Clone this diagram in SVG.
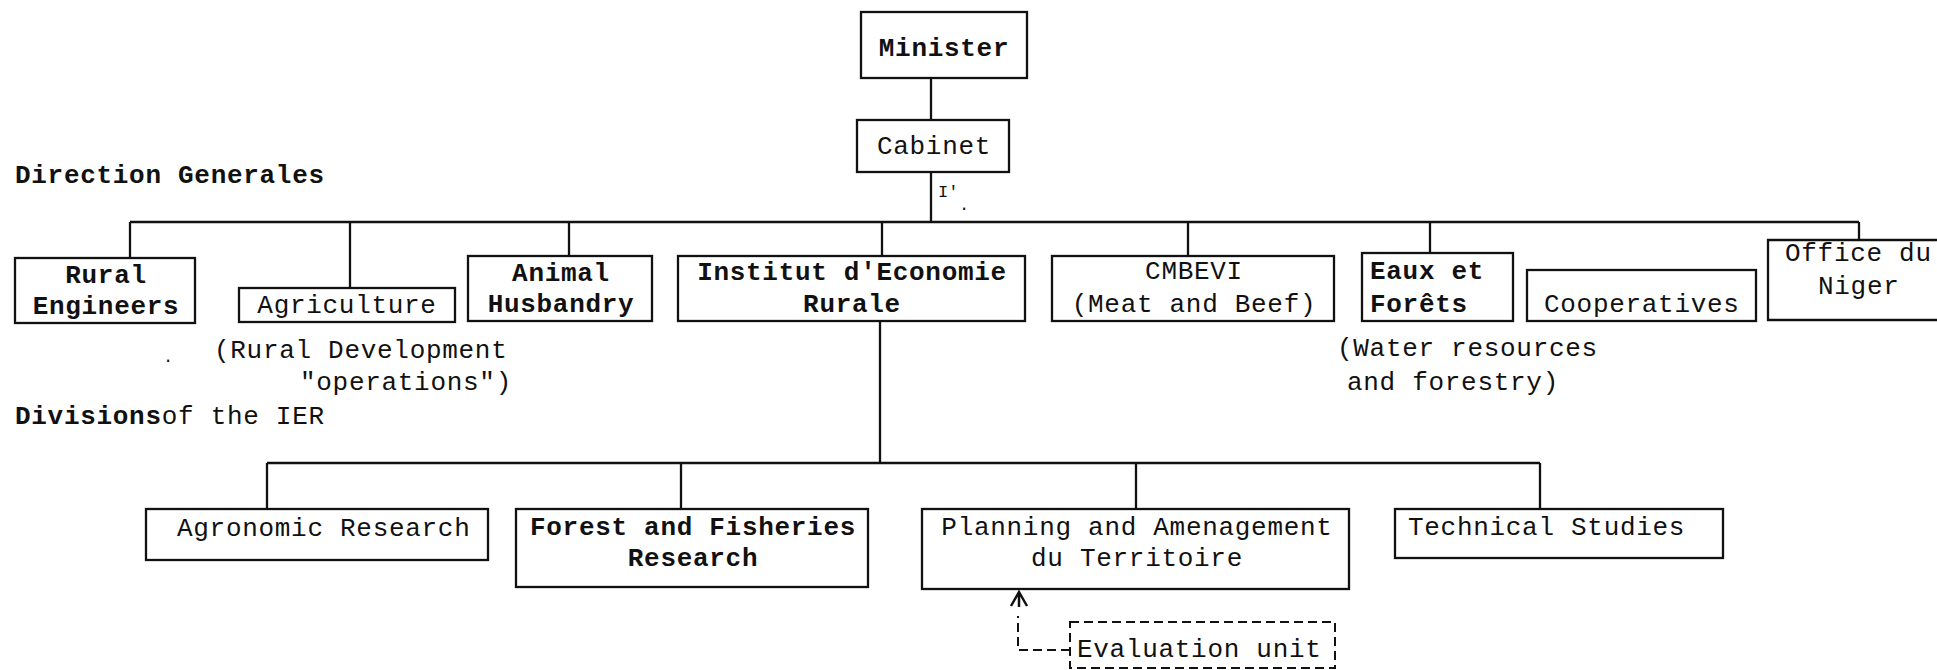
<svg xmlns="http://www.w3.org/2000/svg" width="1937" height="670" viewBox="0 0 1937 670">
<style>
  .box{fill:none;stroke:#111;stroke-width:2.3}
  .dash{fill:none;stroke:#111;stroke-width:2;stroke-dasharray:9 5}
  .ln{fill:none;stroke:#111;stroke-width:2.3}
  .ah{fill:none;stroke:#111;stroke-width:2.5}
  text{font-family:"Liberation Mono","DejaVu Sans Mono",monospace;font-size:26px;letter-spacing:0.7px;fill:#111}
  .b{font-weight:bold}
  .c{text-anchor:middle}
  .s{font-size:17px;letter-spacing:0}
</style>
<rect width="1937" height="670" fill="#fff"/>
<g id="connectors">
  <line class="ln" x1="931" y1="78" x2="931" y2="120"/>
  <line class="ln" x1="931" y1="172" x2="931" y2="222"/>
  <line class="ln" x1="130" y1="222" x2="1859" y2="222"/>
  <line class="ln" x1="130" y1="222" x2="130" y2="258"/>
  <line class="ln" x1="350" y1="222" x2="350" y2="288"/>
  <line class="ln" x1="569" y1="222" x2="569" y2="256"/>
  <line class="ln" x1="882" y1="222" x2="882" y2="256"/>
  <line class="ln" x1="1188" y1="222" x2="1188" y2="256"/>
  <line class="ln" x1="1430" y1="222" x2="1430" y2="253"/>
  <line class="ln" x1="1859" y1="222" x2="1859" y2="240"/>
  <line class="ln" x1="880" y1="321" x2="880" y2="463"/>
  <line class="ln" x1="267" y1="463" x2="1540" y2="463"/>
  <line class="ln" x1="267" y1="463" x2="267" y2="509"/>
  <line class="ln" x1="681" y1="463" x2="681" y2="509"/>
  <line class="ln" x1="1136" y1="463" x2="1136" y2="509"/>
  <line class="ln" x1="1540" y1="463" x2="1540" y2="509"/>
  <path class="dash" d="M1070,650 L1018,650 L1018,616"/>
  <path class="ah" d="M1011,606 L1019,592 L1027,606 M1019,592 L1019,607"/>
</g>
<g id="labels">
  <text class="b" x="15" y="183">Direction Generales</text>
  <text x="214" y="358">(Rural Development</text>
  <text x="300" y="390">"operations")</text>
  <text class="s" x="163" y="362">.</text>
  <text x="15" y="424"><tspan class="b">Divisions</tspan>of the IER</text>
  <text x="1337" y="356">(Water resources</text>
  <text x="1347" y="390">and forestry)</text>
  <text class="s" x="938" y="197">I'</text>
  <text class="s" x="959" y="210">.</text>
</g>
<g id="minister">
  <rect class="box" x="861" y="12" width="166" height="66"/>
  <text class="b c" x="944" y="56">Minister</text>
</g>
<g id="cabinet">
  <rect class="box" x="857" y="120" width="152" height="52"/>
  <text class="c" x="934" y="154">Cabinet</text>
</g>
<g id="rural-engineers">
  <rect class="box" x="15" y="258" width="180" height="65"/>
  <text class="b c" x="106" y="283">Rural</text>
  <text class="b c" x="106" y="314">Engineers</text>
</g>
<g id="agriculture">
  <rect class="box" x="239" y="288" width="216" height="34"/>
  <text class="c" x="347" y="313">Agriculture</text>
</g>
<g id="animal-husbandry">
  <rect class="box" x="468" y="256" width="184" height="65"/>
  <text class="b c" x="561" y="281">Animal</text>
  <text class="b c" x="561" y="312">Husbandry</text>
</g>
<g id="ier">
  <rect class="box" x="678" y="256" width="347" height="65"/>
  <text class="b c" x="852" y="280">Institut d'Economie</text>
  <text class="b c" x="852" y="312">Rurale</text>
</g>
<g id="cmbevi">
  <rect class="box" x="1052" y="256" width="282" height="65"/>
  <text class="c" x="1194" y="279">CMBEVI</text>
  <text class="c" x="1194" y="312">(Meat and Beef)</text>
</g>
<g id="eaux-forets">
  <rect class="box" x="1362" y="253" width="151" height="68"/>
  <text class="b" x="1370" y="279">Eaux et</text>
  <text class="b" x="1370" y="312">Forêts</text>
</g>
<g id="cooperatives">
  <rect class="box" x="1527" y="270" width="229" height="51"/>
  <text x="1544" y="312">Cooperatives</text>
</g>
<g id="office-du-niger">
  <path class="box" d="M1937,240 L1768,240 L1768,320 L1937,320"/>
  <text x="1785" y="261">Office du</text>
  <text x="1818" y="294">Niger</text>
</g>
<g id="agronomic-research">
  <rect class="box" x="146" y="509" width="342" height="51"/>
  <text x="177" y="536">Agronomic Research</text>
</g>
<g id="forest-fisheries">
  <rect class="box" x="516" y="509" width="352" height="78"/>
  <text class="b c" x="693" y="535">Forest and Fisheries</text>
  <text class="b c" x="693" y="566">Research</text>
</g>
<g id="planning">
  <rect class="box" x="922" y="509" width="427" height="80"/>
  <text class="c" x="1137" y="535">Planning and Amenagement</text>
  <text class="c" x="1137" y="566">du Territoire</text>
</g>
<g id="technical-studies">
  <rect class="box" x="1395" y="509" width="328" height="49"/>
  <text x="1408" y="535">Technical Studies</text>
</g>
<g id="evaluation-unit">
  <rect class="dash" x="1070" y="622" width="265" height="46"/>
  <text x="1077" y="657">Evaluation unit</text>
</g>
</svg>
